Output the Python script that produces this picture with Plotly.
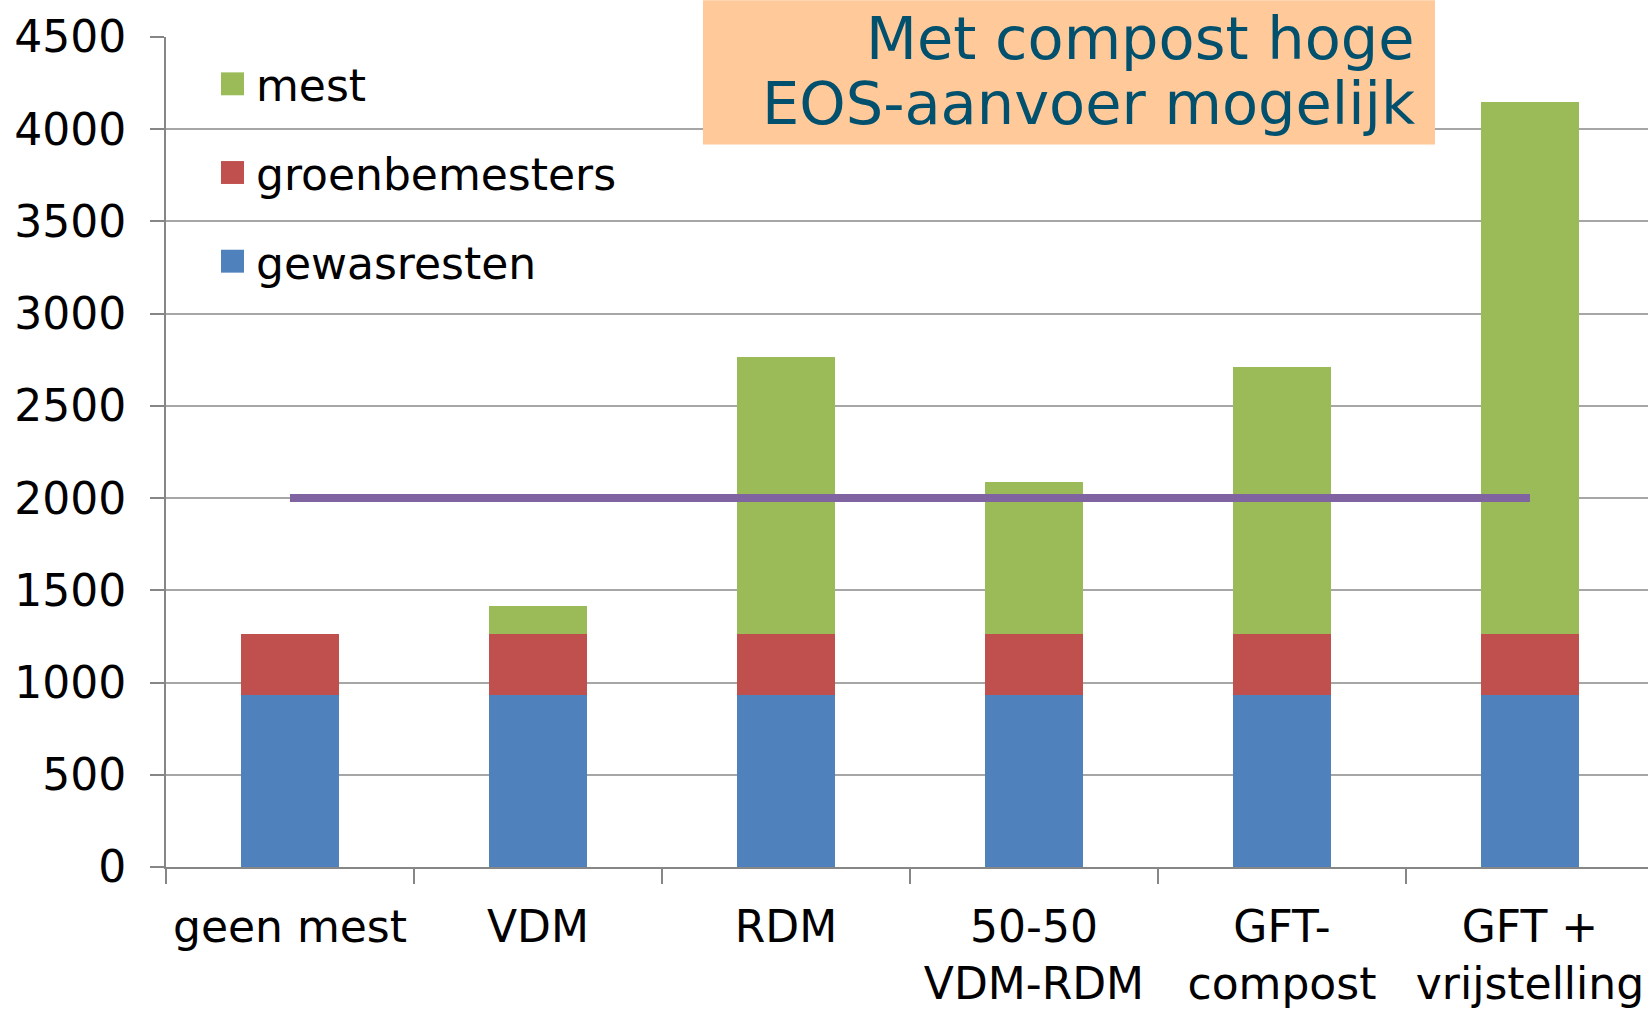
import plotly.graph_objects as go

categories = ["geen mest", "VDM", "RDM", "50-50<br>VDM-RDM", "GFT-<br>compost", "GFT +<br>vrijstelling"]
gewasresten = [935, 935, 935, 935, 935, 935]
groenbemesters = [330, 330, 330, 330, 330, 330]
mest = [0, 148, 1498, 823, 1447, 2883]
target = [2000, 2000, 2000, 2000, 2000, 2000]
y_ticks = [0, 500, 1000, 1500, 2000, 2500, 3000, 3500, 4000, 4500]

series = [
    ("gewasresten", gewasresten, "#4F81BD"),
    ("groenbemesters", groenbemesters, "#C0504D"),
    ("mest", mest, "#9BBB59"),
]

W, H = 1648, 1009
ML, MR, MT, MB = 166, 0, 37, 139
PW, PH = W - ML - MR, H - MT - MB


def px(x):
    return (x - ML) / PW


def py(y):
    return (H - MB - y) / PH


FONT = "DejaVu Sans"
fig = go.Figure()
for name, vals, col in series:
    fig.add_trace(go.Bar(x=categories, y=vals, name=name, marker=dict(color=col, line=dict(width=0)),
                         showlegend=False))

fig.add_trace(go.Scatter(x=categories, y=target, mode="lines", line=dict(color="#8064A2", width=8),
                         showlegend=False, name="norm"))

shapes = []
annotations = []
# manual legend (top to bottom: mest, groenbemesters, gewasresten)
legend_items = list(reversed(series))
for i, (name, vals, col) in enumerate(legend_items):
    cy = 84 + i * 89
    shapes.append(dict(type="rect", xref="paper", yref="paper",
                       x0=px(221), x1=px(244), y0=py(cy + 11.5), y1=py(cy - 11.5),
                       fillcolor=col, line=dict(width=0)))
    annotations.append(dict(text=name, xref="paper", yref="paper", x=px(254), y=py(cy + 2),
                            xanchor="left", yanchor="middle", showarrow=False,
                            font=dict(family=FONT, size=44, color="#000000")))

# title box
shapes.append(dict(type="rect", xref="paper", yref="paper", x0=px(703), x1=px(1435),
                   y0=py(145), y1=py(0), fillcolor="#FFC999", line=dict(width=0), layer="above"))
for txt, cy in [("Met compost hoge", 39), ("EOS-aanvoer mogelijk", 104)]:
    annotations.append(dict(text=txt, xref="paper", yref="paper", x=px(1417), y=py(cy),
                            xanchor="right", yanchor="middle", showarrow=False,
                            font=dict(family=FONT, size=59, color="#00506E")))

fig.update_layout(
    width=W, height=H,
    margin=dict(l=ML, r=MR, t=MT, b=MB, pad=0),
    barmode="stack", bargap=0.605,
    plot_bgcolor="white", paper_bgcolor="white",
    font=dict(family=FONT, size=44, color="#000000"),
    shapes=shapes, annotations=annotations,
    showlegend=False,
    xaxis=dict(type="category", range=[-0.5, 5.476], showline=True, linecolor="#868686", linewidth=2,
               ticks="outside", tickson="boundaries", ticklen=15, tickcolor="#868686", tickwidth=2,
               showgrid=False, ticklabelstandoff=20,
               tickfont=dict(family=FONT, size=44, color="#000000")),
    yaxis=dict(range=[0, 4500], tickvals=y_ticks, showline=True, linecolor="#868686", linewidth=2,
               ticks="outside", ticklen=14, tickcolor="#868686", tickwidth=2,
               showgrid=True, gridcolor="#A6A6A6", gridwidth=2, zeroline=False,
               ticklabelstandoff=15,
               tickfont=dict(family=FONT, size=44, color="#000000")),
)

fig.write_html("out.html", config={"displayModeBar": False},
               post_script="document.body.style.margin='0';document.body.style.overflow='hidden';")
